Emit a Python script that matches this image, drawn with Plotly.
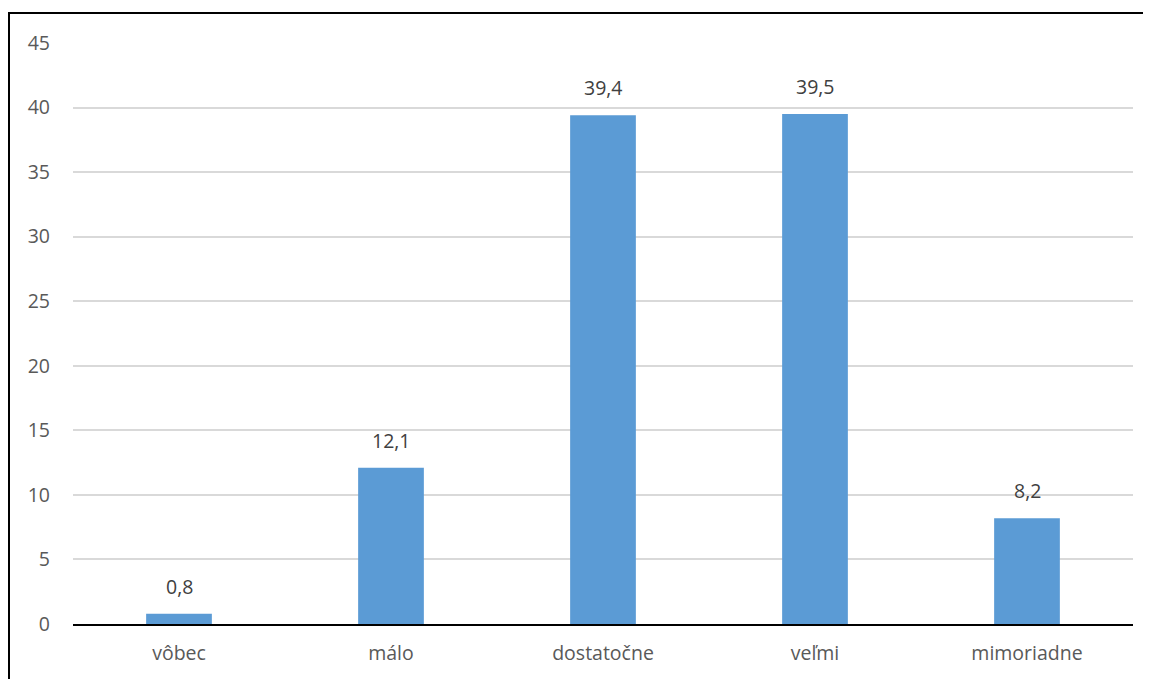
import plotly.graph_objects as go

categories = ["vôbec", "málo", "dostatočne", "veľmi", "mimoriadne"]
values = [0.8, 12.1, 39.4, 39.5, 8.2]
value_labels = ["0,8", "12,1", "39,4", "39,5", "8,2"]
y_ticks = [0, 5, 10, 15, 20, 25, 30, 35, 40, 45]

# page body has an 8px margin, so the figure is drawn 8px in from the window edge
W, H = 1143, 671
L, R, T, B = 65, 18, 35, 55
pw, ph = W - L - R, H - T - B

def px_x(x):
    return (x - L) / pw

def px_y(y):
    return (H - B - y) / ph

FONT = "Open Sans"
FS = 19.5

fig = go.Figure(go.Bar(
    x=categories, y=values,
    marker=dict(color="#5B9BD5", line=dict(width=0)),
    cliponaxis=False,
))

for c, v, t in zip(categories, values, value_labels):
    fig.add_annotation(x=c, y=v, text=t, showarrow=False, yanchor="bottom",
                       yshift=12, font=dict(size=FS, color="#404040", family=FONT))

fig.update_layout(
    width=W, height=H,
    margin=dict(l=L, r=R, t=T, b=B),
    plot_bgcolor="white", paper_bgcolor="white",
    bargap=0.69, showlegend=False,
    font=dict(family=FONT, color="#595959", size=FS),
    xaxis=dict(showgrid=False, showline=True, linecolor="#000000", linewidth=1.5,
               ticks="", ticklabelstandoff=11, tickfont=dict(size=FS, color="#595959")),
    yaxis=dict(range=[0, 45], tickvals=y_ticks, showgrid=True, gridcolor="#D9D9D9",
               gridwidth=1.5, zeroline=False, showline=False, ticks="",
               ticklabelstandoff=22, tickfont=dict(size=FS, color="#595959")),
    shapes=[dict(type="path", xref="paper", yref="paper",
                 path=f"M {px_x(1)} {px_y(700)} L {px_x(1)} {px_y(5)} L {px_x(1141)} {px_y(5)} L {px_x(1141)} {px_y(700)}",
                 line=dict(color="black", width=2))],
)

fig.write_html("out.html")
